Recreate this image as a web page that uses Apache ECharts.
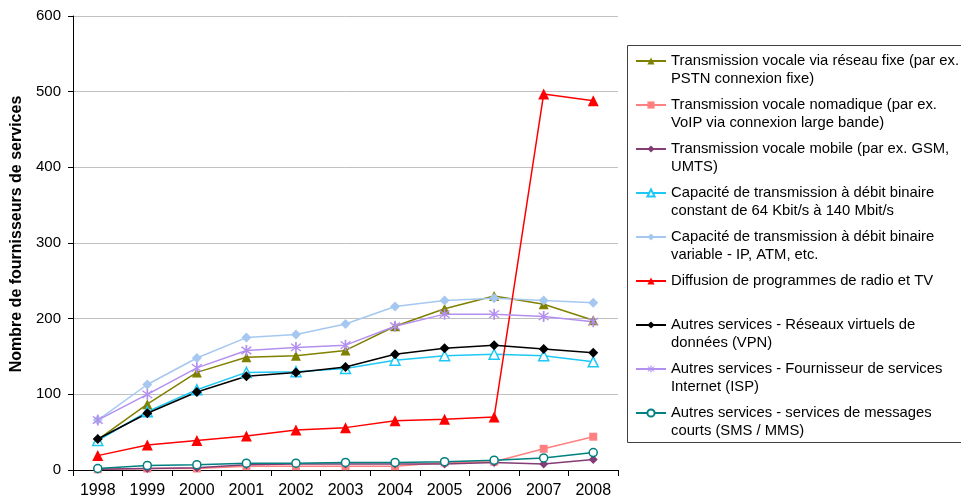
<!DOCTYPE html>
<html>
<head>
<meta charset="utf-8">
<script src="https://cdn.jsdelivr.net/npm/echarts@6/dist/echarts.min.js"></script>
<style>
  html, body { margin: 0; padding: 0; background: #fff; }
  #chart { width: 961px; height: 502px; }
</style>
</head>
<body>
<div id="chart"></div>
<script>
// Années
const years = ['1998', '1999', '2000', '2001', '2002', '2003', '2004', '2005', '2006', '2007', '2008'];

// Libellés des séries (le saut de ligne sert à la légende)
const seriesLabels = [
  'Transmission vocale via réseau fixe (par ex.\nPSTN connexion fixe)',
  'Transmission vocale nomadique (par ex.\nVoIP via connexion large bande)',
  'Transmission vocale mobile (par ex. GSM,\nUMTS)',
  'Capacité de transmission à débit binaire\nconstant de 64 Kbit/s à 140 Mbit/s',
  'Capacité de transmission à débit binaire\nvariable - IP, ATM, etc.',
  'Diffusion de programmes de radio et TV\n ',
  'Autres services - Réseaux virtuels de\ndonnées (VPN)',
  'Autres services - Fournisseur de services\nInternet (ISP)',
  'Autres services - services de messages\ncourts (SMS / MMS)'
];

// Nombre de fournisseurs de services par année
const voixFixe      = [40, 87, 129, 149, 151, 158, 190, 213, 230, 219, 198];
const voixNomadique = [1, 2, 2, 5, 5, 5, 5, 10, 11, 28, 44];
const voixMobile    = [1, 2, 3, 7, 8, 8, 8, 8, 10, 8, 14];
const debitConstant = [39, 77, 106, 129, 130, 134, 145, 151, 153, 151, 143];
const debitVariable = [66, 113, 148, 175, 179, 193, 216, 224, 227, 224, 221];
const radioTV       = [19, 33, 39, 45, 53, 56, 65, 67, 70, 497, 488];
const vpn           = [41, 75, 103, 124, 129, 136, 153, 161, 165, 160, 155];
const isp           = [66, 100, 135, 158, 162, 165, 190, 206, 206, 203, 196];
const smsMms        = [2, 6, 7, 9, 9, 10, 10, 11, 13, 16, 23];

// Échelle de l'axe vertical
const yMin = 0, yMax = 600, yStep = 100;

const flatName = s => s.replace('\n', ' ').trim();

// Astérisque (croix + barre verticale)
const asterisk = 'path://M4.4,0 L5.6,0 L5.6,10 L4.4,10 Z ' +
  'M1.2,2 L2,1.2 L8.8,8 L8,8.8 Z ' +
  'M8,1.2 L8.8,2 L2,8.8 L1.2,8 Z';

const styles = [
  { color: '#808000', symbol: 'triangle', size: 10 },
  { color: '#FF8080', symbol: 'rect', size: 8 },
  { color: '#843C74', symbol: 'diamond', size: 9 },
  { color: '#1EC8F5', symbol: 'triangle', size: 10, hollow: true },
  { color: '#A6C8F0', symbol: 'diamond', size: 10 },
  { color: '#FF0000', symbol: 'triangle', size: 11 },
  { color: '#000000', symbol: 'diamond', size: 10 },
  { color: '#B390F0', symbol: asterisk, size: 11 },
  { color: '#008080', symbol: 'circle', size: 8, hollow: true }
];

const values = [voixFixe, voixNomadique, voixMobile, debitConstant, debitVariable, radioTV, vpn, isp, smsMms];

// Une ligne vide en tête garde la première ligne du libellé au niveau de l'icône
const labelMap = {};
seriesLabels.forEach(l => { labelMap[flatName(l)] = ' \n' + l; });

const series = values.map((data, i) => {
  const st = styles[i];
  return {
    name: flatName(seriesLabels[i]),
    type: 'line',
    data: data,
    symbol: st.symbol,
    symbolSize: st.size,
    showAllSymbol: true,
    animation: false,
    lineStyle: { color: st.color, width: 1.5 },
    itemStyle: st.hollow
      ? { color: '#ffffff', borderColor: st.color, borderWidth: 1.5 }
      : { color: st.color, borderWidth: 0 },
    emphasis: { disabled: true }
  };
});

const chart = echarts.init(document.getElementById('chart'), null, { renderer: 'canvas' });
chart.setOption({
  animation: false,
  backgroundColor: '#ffffff',
  textStyle: { fontFamily: 'Liberation Sans, Arial, sans-serif' },
  grid: { left: 73, top: 16, right: 343, bottom: 32, containLabel: false },
  // cadre de la légende
  graphic: [{
    type: 'rect',
    silent: true,
    shape: { x: 627.5, y: 45.5, width: 360, height: 397 },
    style: { fill: 'none', stroke: '#404040', lineWidth: 1 },
    z: 1
  }],
  legend: {
    orient: 'vertical',
    left: 635,
    top: 34,
    padding: 0,
    itemWidth: 30,
    itemHeight: 9,
    itemGap: -10,
    selectedMode: false,
    z: 3,
    data: series.map(s => s.name),
    formatter: name => labelMap[name],
    textStyle: {
      fontSize: 14.8,
      color: '#000',
      lineHeight: 18,
      fontFamily: 'Liberation Sans, Arial, sans-serif'
    }
  },
  xAxis: {
    type: 'category',
    data: years,
    boundaryGap: true,
    axisLine: { lineStyle: { color: '#000', width: 1 } },
    axisTick: { show: true, length: 6, lineStyle: { color: '#000' } },
    axisLabel: { color: '#000', fontSize: 16, margin: 13 },
    splitLine: { show: false }
  },
  yAxis: {
    type: 'value',
    min: yMin,
    max: yMax,
    interval: yStep,
    name: 'Nombre de fournisseurs de services',
    nameLocation: 'middle',
    nameGap: 47,
    nameTextStyle: { color: '#000', fontSize: 16, fontWeight: 'bold', padding: [0, 0, 0, 18] },
    axisLine: { show: true, lineStyle: { color: '#000', width: 1 } },
    axisTick: { show: true, length: 5, lineStyle: { color: '#000' } },
    axisLabel: { color: '#000', fontSize: 15, margin: 12 },
    splitLine: { show: true, lineStyle: { color: '#C0C0C0', width: 1 } }
  },
  series: series
});
</script>
</body>
</html>
